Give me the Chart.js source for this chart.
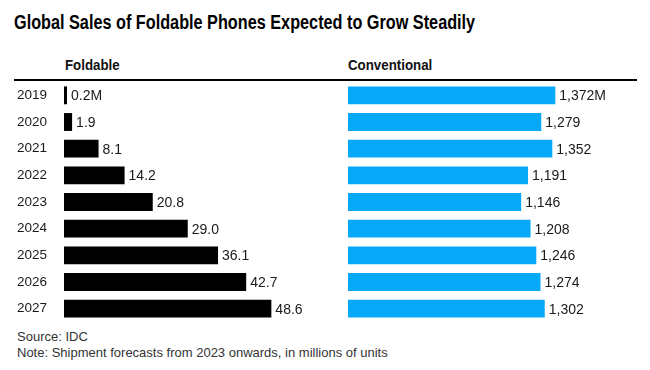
<!DOCTYPE html>
<html>
<head>
<meta charset="utf-8">
<script src="https://cdn.jsdelivr.net/npm/chart.js@4.4.1/dist/chart.umd.min.js"></script>
<style>
    body { margin: 0; background: #fff; width: 650px; height: 370px; overflow: hidden; font-family: "Liberation Sans", Arial, sans-serif; color: #111; }
    .abs { position: absolute; white-space: nowrap; }
    #title { left: 14px; top: 11px; font-weight: bold; font-size: 20px; color: #000; transform: scaleX(0.812); transform-origin: 0 0; }
    .head { top: 57px; font-weight: bold; font-size: 14px; color: #111; transform: scaleX(0.95); transform-origin: 0 0; }
    #rule { left: 14px; top: 79px; width: 623px; height: 2px; background: #000; }
    .foot { left: 17px; font-size: 13px; color: #333; }
</style>
</head>
<body>
<div class="abs" id="title">Global Sales of Foldable Phones Expected to Grow Steadily</div>
<div class="abs head" style="left:65px">Foldable</div>
<div class="abs head" style="left:348px">Conventional</div>
<div class="abs" id="rule"></div>
<canvas class="abs" id="foldChart" width="320" height="240" style="left:0;top:82px"></canvas>
<canvas class="abs" id="convChart" width="272" height="240" style="left:348px;top:82px"></canvas>
<div class="abs foot" style="top:329px">Source: IDC</div>
<div class="abs foot" style="top:345px">Note: Shipment forecasts from 2023 onwards, in millions of units</div>
<script>
const years = ['2019', '2020', '2021', '2022', '2023', '2024', '2025', '2026', '2027']
const foldable = [0.2, 1.9, 8.1, 14.2, 20.8, 29.0, 36.1, 42.7, 48.6]
const conventional = [1372, 1279, 1352, 1191, 1146, 1208, 1246, 1274, 1302]

const font = '"Liberation Sans", Arial, sans-serif'

function foldLabel(v, i) {
    return v.toFixed(1) + (i === 0 ? 'M' : '')
}
function convLabel(v, i) {
    return v.toLocaleString('en-US') + (i === 0 ? 'M' : '')
}

// writes the value just past the end of each bar
const valueLabels = {
    id: 'valueLabels',
    afterDatasetsDraw(chart, args, opts) {
        const ctx = chart.ctx
        const meta = chart.getDatasetMeta(0)
        const data = chart.data.datasets[0].data
        ctx.save()
        ctx.font = '14px ' + font
        ctx.fillStyle = '#1a1a1a'
        ctx.textAlign = 'left'
        ctx.textBaseline = 'middle'
        meta.data.forEach((bar, i) => {
            ctx.fillText(opts.format(data[i], i), bar.x + 4, bar.y + 1)
        })
        ctx.restore()
    }
}

function makeChart(id, values, color, max, format, showYears) {
    return new Chart(document.getElementById(id), {
        type: 'bar',
        data: {
            labels: years,
            datasets: [{
                data: values,
                backgroundColor: color,
                barPercentage: 0.67,
                categoryPercentage: 1,
                minBarLength: 3
            }]
        },
        options: {
            indexAxis: 'y',
            responsive: false,
            animation: false,
            layout: { padding: { left: showYears ? 17 : 0, right: 0, top: 0, bottom: 0 } },
            plugins: {
                legend: { display: false },
                tooltip: { enabled: false },
                valueLabels: { format: format }
            },
            scales: {
                x: { display: false, min: 0, max: max },
                y: {
                    display: showYears,
                    grid: { display: false },
                    border: { display: false },
                    ticks: { crossAlign: 'far', color: '#1a1a1a', font: { family: font, size: 13.5 } },
                    afterFit: (scale) => {
                        if (!showYears) return
                        scale.width = 47
                        scale.paddingTop = 0
                        scale.paddingBottom = 0
                    }
                }
            }
        },
        plugins: [valueLabels]
    })
}

makeChart('foldChart', foldable, '#000000', 60, foldLabel, true)
makeChart('convChart', conventional, '#05a9f8', 1800, convLabel, false)
</script>
</body>
</html>
